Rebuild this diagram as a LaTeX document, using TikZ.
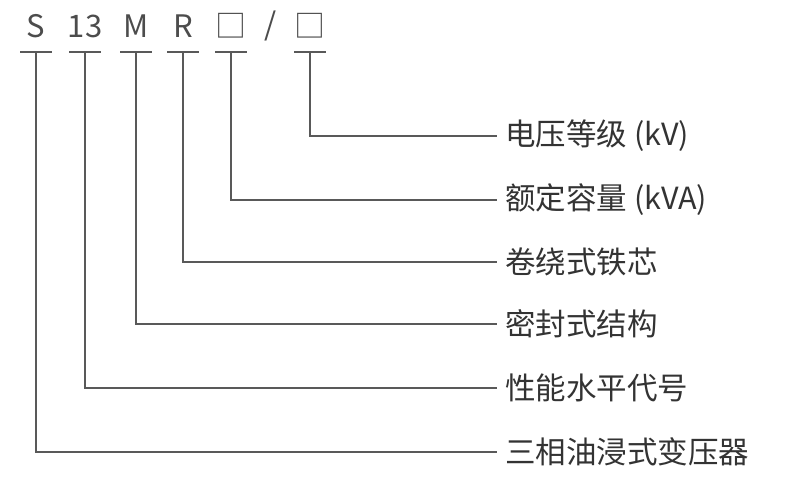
\documentclass[tikz,border=0pt]{standalone}
\usepackage{fontspec}
\setmainfont{Noto Sans CJK SC}
\begin{document}
\begin{tikzpicture}[x=1pt,y=-1pt,
  ln/.style={draw=black!65,line width=1.5pt},
  top/.style={text=black!70,font=\fontsize{31}{33}\selectfont,anchor=center,inner sep=0},
  lab/.style={text=black!80,font=\fontsize{30.5}{32}\selectfont,anchor=west,inner sep=0}]
\useasboundingbox (0,0) rectangle (800,500);
\foreach \n/\x/\t in {s/36/S,a/85/13,m/136/M,r/183/R,b/231/{□},c/310/{□}}{
  \node[top] (t\n) at (\x,26) {\t};
  \draw[ln] (\x-16,52) -- (\x+16,52);
  \coordinate (k\n) at (\x,52);
}
\node[top] (sl) at (271,26) {/};
\foreach \n/\y/\t in {c/136/{电压等级 (kV)},b/200/{额定容量 (kVA)},r/262/{卷绕式铁芯},m/324/{密封式结构},a/388/{性能水平代号},s/452/{三相油浸式变压器}}{
  \node[lab] (l\n) at (505,\y) {\t};
  \draw[ln] (k\n) |- ([xshift=-8pt]l\n.west);
}
\end{tikzpicture}
\end{document}
